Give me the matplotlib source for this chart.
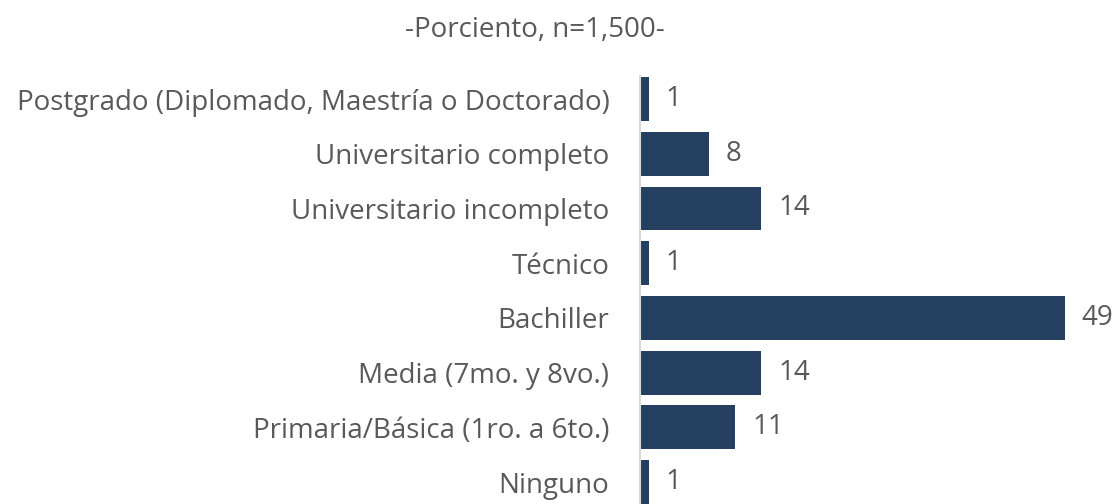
import numpy as np
import matplotlib.pyplot as plt

categorias = ['Postgrado (Diplomado, Maestría o Doctorado)',
              'Universitario completo',
              'Universitario incompleto',
              'Técnico',
              'Bachiller',
              'Media (7mo. y 8vo.)',
              'Primaria/Básica (1ro. a 6to.)',
              'Ninguno']
valores = [1, 8, 14, 1, 49, 14, 11, 1]
titulo = '-Porciento, n=1,500-'

plt.rcParams['font.family'] = ['Open Sans', 'DejaVu Sans']
gris = '#595959'

fig = plt.figure(figsize=(11.18, 5.04), dpi=100)
ax = fig.add_axes([640/1118, 0, 478/1118, (504 - 75.6)/504])

y = np.arange(len(categorias))
ax.barh(y, valores, height=0.8, color='#243F60')
for yi, v in zip(y, valores):
    ax.annotate(str(v), (v, yi), xytext=(12, 0), textcoords='offset points',
                va='center', ha='left', fontsize=20, color=gris)

ax.set_xlim(0, 55.1)
ax.set_ylim(7.40, -0.428)
ax.set_yticks(y)
ax.set_yticklabels(categorias, fontsize=20, color=gris)
ax.tick_params(axis='y', length=0, pad=22)
ax.set_xticks([])
for s in ['top', 'right', 'bottom']:
    ax.spines[s].set_visible(False)
ax.spines['left'].set_color('#D9D9D9')
ax.spines['left'].set_linewidth(1.5)

fig.text(535/1118, 1 - 30/504, titulo, ha='center', va='center',
         fontsize=20, color=gris)

fig.savefig('out.png', dpi=100)
